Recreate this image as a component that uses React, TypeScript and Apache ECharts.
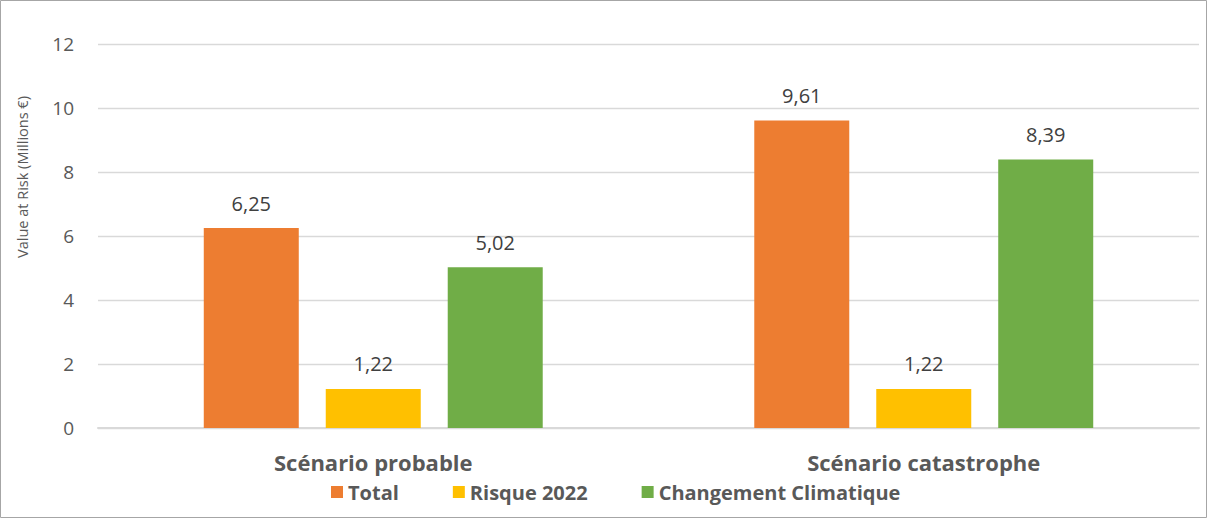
import React, { useEffect, useRef } from "react";
import * as echarts from "echarts";

const categories = ["Scénario probable", "Scénario catastrophe"];
const seriesNames = ["Total", "Risque 2022", "Changement Climatique"];
const totalValues = [6.25, 9.61];
const risqueValues = [1.22, 1.22];
const climatValues = [5.02, 8.39];
const colors = ["#ED7D31", "#FFC000", "#70AD47"];
const yTicks = { min: 0, max: 12, interval: 2 };
const yAxisTitle = "Value at Risk (Millions €)";

const FONT = "'Open Sans', sans-serif";

export default function App() {
  const ref = useRef<HTMLDivElement>(null);
  useEffect(() => {
    if (!ref.current) return;
    const chart = echarts.init(ref.current, undefined, { renderer: "svg" });
    const values = [totalValues, risqueValues, climatValues];
    chart.setOption({
      animation: false,
      backgroundColor: "#ffffff",
      textStyle: { fontFamily: FONT },
      grid: { left: 98, right: 8, top: 44, bottom: 90, containLabel: false },
      legend: {
        data: seriesNames,
        left: 331,
        top: 482,
        padding: 0,
        itemWidth: 12,
        itemHeight: 12,
        itemGap: 54,
        icon: "rect",
        textStyle: { fontFamily: FONT, fontSize: 20, fontWeight: "bold", color: "#595959", padding: [0, 0, 0, 0] },
      },
      xAxis: {
        type: "category",
        data: categories,
        axisTick: { show: false },
        axisLine: { lineStyle: { color: "#d9d9d9", width: 2 } },
        axisLabel: { fontFamily: FONT, fontSize: 22, fontWeight: "bold", color: "#595959", margin: 23 },
      },
      yAxis: {
        type: "value",
        min: yTicks.min,
        max: yTicks.max,
        interval: yTicks.interval,
        axisLine: { show: false },
        axisTick: { show: false },
        splitLine: { lineStyle: { color: "#d9d9d9", width: 1.3 } },
        axisLabel: { fontFamily: FONT, fontSize: 19, color: "#595959", margin: 24 },
      },
      graphic: [
        {
          type: "rect",
          shape: { x: 0.5, y: 0.5, width: 1206, height: 517 },
          style: { fill: "none", stroke: "#a6a6a6", lineWidth: 1 },
          silent: true,
        },
        {
          type: "text",
          x: 22,
          y: 177,
          rotation: Math.PI / 2,
          style: {
            text: yAxisTitle,
            fontFamily: FONT,
            fontSize: 14.5,
            fill: "#595959",
            align: "center",
            verticalAlign: "middle",
          },
        },
      ],
      series: seriesNames.map((name, i) => ({
        name,
        type: "bar",
        data: values[i],
        barWidth: 95,
        barGap: "28.4%",
        itemStyle: { color: colors[i] },
        label: {
          show: true,
          position: "top",
          distance: 15,
          fontFamily: FONT,
          fontSize: 20,
          color: "#404040",
          formatter: (p: any) => p.value.toFixed(2).replace(".", ","),
        },
      })),
    });
    return () => chart.dispose();
  }, []);
  return (
    <div
      ref={ref}
      style={{ position: "absolute", left: 0, top: 0, width: 1207, height: 518 }}
    />
  );
}
